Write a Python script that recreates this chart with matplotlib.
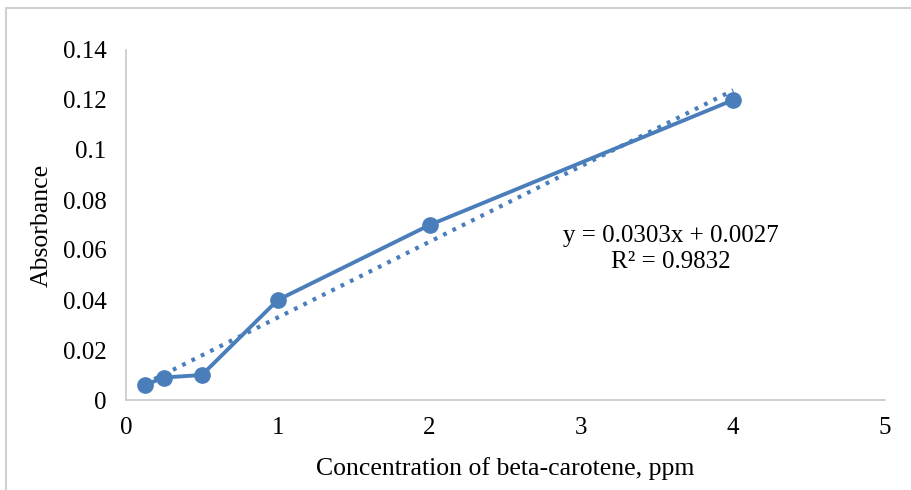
import matplotlib.pyplot as plt
from matplotlib.patches import Rectangle

# data
conc = [0.125, 0.25, 0.5, 1, 2, 4]
absorbance = [0.006, 0.009, 0.010, 0.040, 0.070, 0.120]
slope = 0.0303
intercept = 0.0027
eq_text = 'y = 0.0303x + 0.0027\nR² = 0.9832'
x_ticks = [0, 1, 2, 3, 4, 5]
y_ticks = [0, 0.02, 0.04, 0.06, 0.08, 0.1, 0.12, 0.14]
y_tick_labels = ['0', '0.02', '0.04', '0.06', '0.08', '0.1', '0.12', '0.14']

blue = '#4A7EBB'
plt.rcParams['font.family'] = ['Liberation Serif', 'DejaVu Serif']

fig = plt.figure(figsize=(9.11, 4.9), dpi=100)
ax = fig.add_axes([126 / 911, 1 - 400 / 490, (885 - 126) / 911, 350 / 490])

# outer chart border (right and bottom edges fall outside the image)
fig.patches.append(Rectangle((6 / 911, -0.1), 1.0, 1.1 - 8 / 490,
                             transform=fig.transFigure, fill=False,
                             edgecolor='#d0d0d0', linewidth=1.5))

ax.plot(conc, absorbance, color=blue, linewidth=2.8, marker='o',
        markersize=11, zorder=3)

trend_x = [conc[0], conc[-1]]
trend_y = [slope * v + intercept for v in trend_x]
ax.plot(trend_x, trend_y, color=blue, linewidth=3, linestyle=(0, (0.9, 1.6)),
        dash_capstyle='butt', zorder=2)

ax.text(3.59, 0.0604, eq_text, ha='center', va='center', fontsize=18,
        linespacing=1.2)

ax.set_xlim(0, 5)
ax.set_ylim(0, 0.14)
ax.set_xticks(x_ticks)
ax.set_yticks(y_ticks)
ax.set_yticklabels(y_tick_labels)
ax.tick_params(length=0, labelsize=18)
ax.tick_params(axis='x', pad=12)
ax.tick_params(axis='y', pad=14)

for s in ['top', 'right']:
    ax.spines[s].set_visible(False)
for s in ['left', 'bottom']:
    ax.spines[s].set_color('#c8c8c8')
    ax.spines[s].set_linewidth(1.2)

ax.set_xlabel('Concentration of beta-carotene, ppm', fontsize=18.5, labelpad=13)
ax.set_ylabel('Absorbance', fontsize=18.5, labelpad=7)

fig.savefig('out.png', dpi=100)
